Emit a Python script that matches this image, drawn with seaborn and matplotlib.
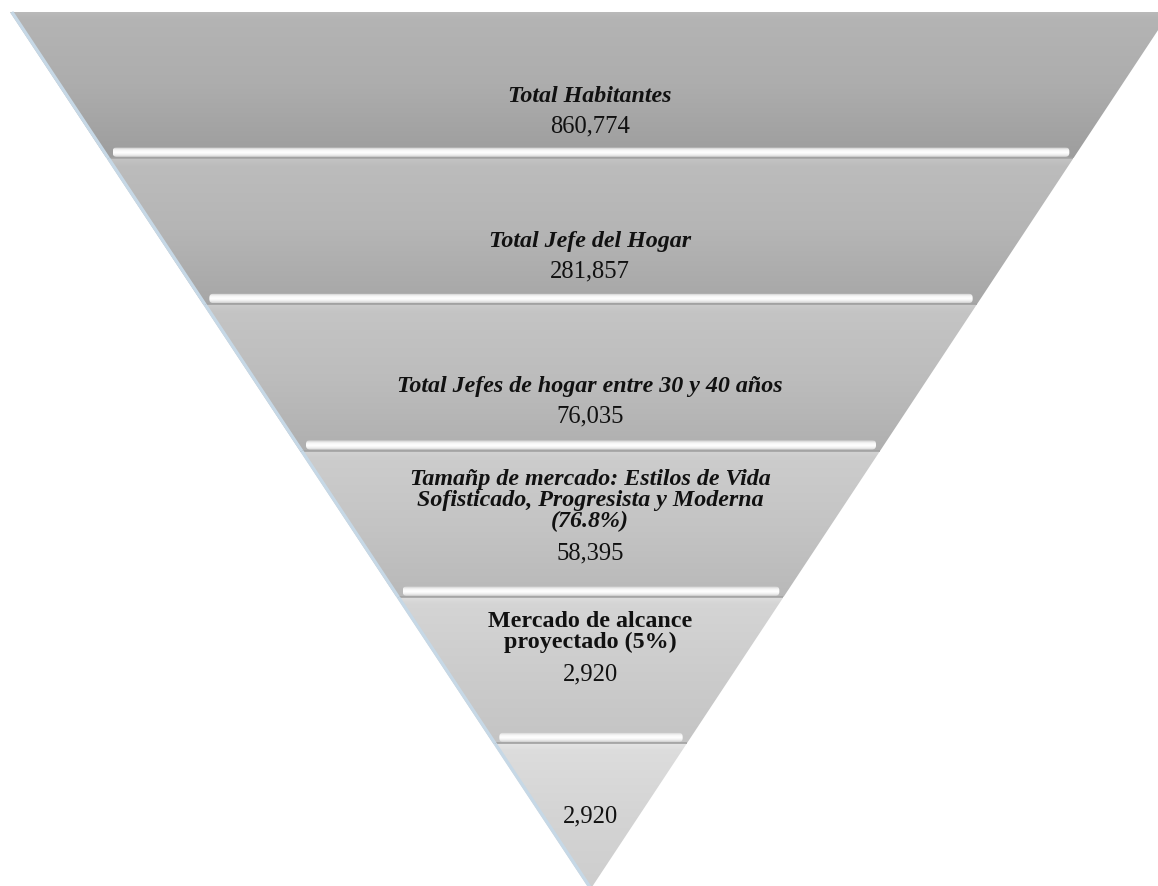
import numpy as np
import matplotlib
matplotlib.use("Agg")
import matplotlib.pyplot as plt
from matplotlib.patches import Polygon, FancyBboxPatch
from matplotlib.colors import to_rgb
import seaborn as sns

# ---- data -------------------------------------------------------------
stages = [
    "Total Habitantes",
    "Total Jefe del Hogar",
    "Total Jefes de hogar entre 30 y 40 años",
    "Tamañp de mercado: Estilos de Vida\nSofisticado, Progresista y Moderna\n(76.8%)",
    "Mercado de alcance\nproyectado (5%)",
    "",
]
values = [860774, 281857, 76035, 58395, 2920, 2920]
stage_italic = [True, True, True, True, False, False]

# ---- layout (pixel-like canvas units) ---------------------------------
W, H = 1158, 886
TOP_Y, APEX_Y, CX, HALF_TOP = 12, 890, 590, 580
label_dy = [0.58, 0.565, 0.562, 0.34, 0.235, None]   # fraction of band height
value_dy = [0.78, 0.77, 0.767, 0.70, 0.53, 0.50]
shade_bottom = [0.91, 0.92, 0.93, 0.94, 0.96, 0.97]

sns.set_theme(style="white")
plt.rcParams["font.family"] = ["Liberation Serif", "DejaVu Serif"]

band_cols = sns.blend_palette(["#adadad", "#d4d4d4"], len(values))

fig = plt.figure(figsize=(W / 100, H / 100), dpi=100)
ax = fig.add_axes([0, 0, 1, 1])
ax.set_axis_off()

n = len(values)
band_h = (APEX_Y - TOP_Y) / n


def half_w(y):
    return HALF_TOP * (APEX_Y - y) / (APEX_Y - TOP_Y)


def vgrad(stops, rows=200):
    pos = np.array([s[0] for s in stops])
    cols = np.array([to_rgb(s[1]) for s in stops])
    t = np.linspace(0, 1, rows)
    arr = np.stack([np.interp(t, pos, cols[:, k]) for k in range(3)], axis=-1)
    return arr[:, None, :]


def shade(c, f):
    c = np.array(to_rgb(c))
    return tuple(np.clip(c * f, 0, 1))


for i, (stage, val) in enumerate(zip(stages, values)):
    y0 = TOP_Y + i * band_h
    y1 = y0 + band_h
    hw0, hw1 = half_w(y0), half_w(y1)
    pts = [(CX - hw0, y0), (CX + hw0, y0), (CX + hw1, y1), (CX - hw1, y1)]
    poly = Polygon(pts, closed=True, facecolor="none", edgecolor="none")
    ax.add_patch(poly)

    base = band_cols[i]
    grad = vgrad([(0.0, shade(base, 1.08)), (0.05, shade(base, 1.04)),
                  (0.5, shade(base, 1.0)), (1.0, shade(base, shade_bottom[i]))])
    im = ax.imshow(grad, extent=(CX - hw0, CX + hw0, y1, y0),
                   aspect="auto", interpolation="bilinear", zorder=1)
    im.set_clip_path(poly)

    # bevel highlight along the bottom edge
    if i < n - 1:
        sh = 11
        sl = CX - hw1 + 6
        sr = CX + hw1 - 4
        strip = FancyBboxPatch((sl, y1 - sh), sr - sl, sh - 1.5,
                               boxstyle="round,pad=0,rounding_size=4",
                               facecolor="none", edgecolor="none")
        ax.add_patch(strip)
        sg = vgrad([(0.0, shade(base, 0.96)), (0.15, "#e2e2e2"), (0.32, "#f7f7f7"),
                    (0.55, "#ffffff"), (0.78, "#efefef"), (1.0, "#cfcfcf")])
        sim = ax.imshow(sg, extent=(sl, sr, y1 - 1.5, y1 - sh), aspect="auto",
                        interpolation="bilinear", zorder=2)
        sim.set_clip_path(strip)
        ax.plot([CX - hw1, CX + hw1], [y1 - 0.5, y1 - 0.5], color="#a2a2a2",
                lw=1.2, zorder=3, solid_capstyle="butt")

    # light rim on the left side
    ax.plot([CX - hw0 + 1.8, CX - hw1 + 1.8], [y0, y1], color="#c6d8e6",
            lw=2.4, zorder=3, solid_capstyle="butt")

    if stage:
        ax.text(CX, y0 + label_dy[i] * band_h, stage, ha="center", va="center",
                fontsize=17.3, fontweight="bold",
                fontstyle="italic" if stage_italic[i] else "normal",
                linespacing=1.0, color="#111111", zorder=5)
    ax.text(CX, y0 + value_dy[i] * band_h, f"{val:,}", ha="center", va="center",
            fontsize=17.7, color="#111111", zorder=5)

ax.set_xlim(0, W)
ax.set_ylim(H, 0)

fig.savefig("out.png", dpi=100, facecolor="white")
